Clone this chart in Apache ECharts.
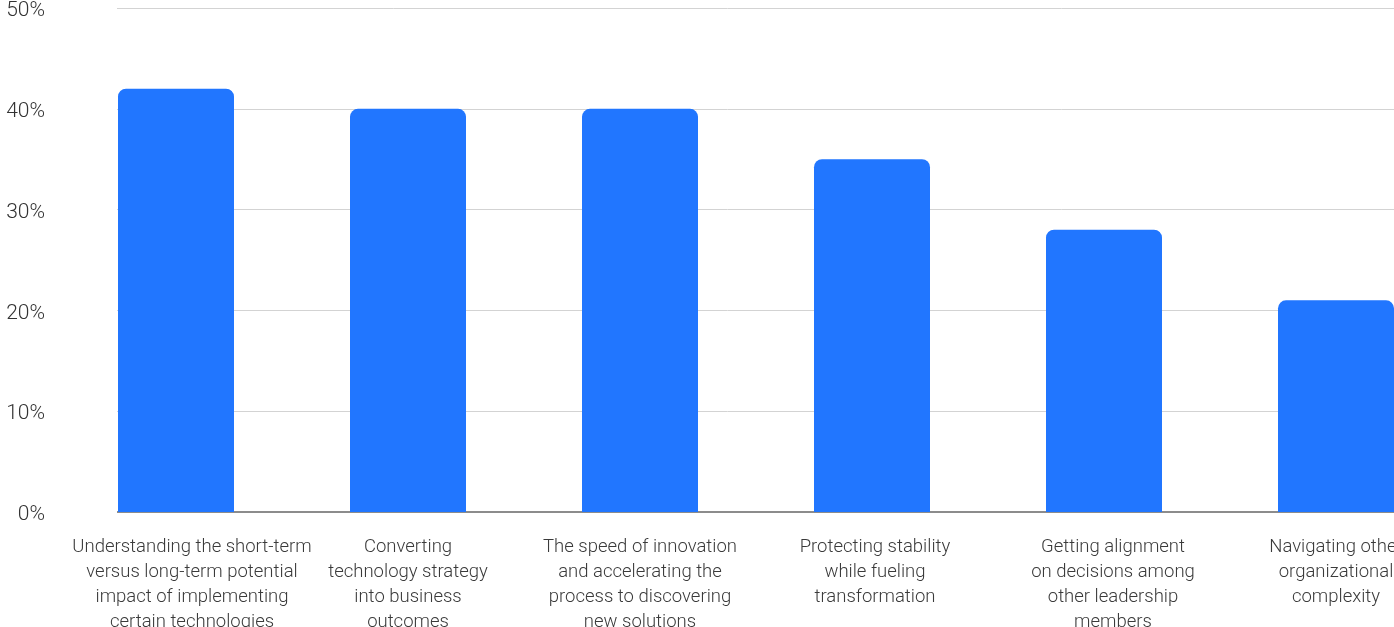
<!DOCTYPE html>
<html>
<head>
<meta charset="utf-8">
<script src="https://cdn.jsdelivr.net/npm/echarts@6/dist/echarts.min.js"></script>
<style>
  html, body { margin: 0; padding: 0; background: #fff; }
  #chart { width: 1394px; height: 627px; }
</style>
</head>
<body>
<div id="chart"></div>
<script>
// challenges named by respondents
var categories = [
  'Understanding the short-term\nversus long-term potential\nimpact of implementing\ncertain technologies',
  'Converting\ntechnology strategy\ninto business\noutcomes',
  'The speed of innovation\nand accelerating the\nprocess to discovering\nnew solutions',
  'Protecting stability\nwhile fueling\ntransformation',
  'Getting alignment\non decisions among\nother leadership\nmembers',
  'Navigating other\norganizational\ncomplexity'
]
var shares = [42, 40, 40, 35, 28, 21]
var yTicks = [0, 10, 20, 30, 40, 50]

// small horizontal nudges of the category labels (px, to the right)
var labelShift = [16, 0, 0, 3, 9, 0]

var labelFont = {
  color: '#3a3a3a',
  fontFamily: 'Roboto',
  fontSize: 18.5,
  fontWeight: 300,
  lineHeight: 25
}
var richX = {}
labelShift.forEach(function (s, i) {
  richX['c' + i] = Object.assign({ padding: [0, 0, 0, s * 2] }, labelFont)
})

var chart = echarts.init(document.getElementById('chart'))
chart.setOption({
  animation: false,
  textStyle: { fontFamily: 'Roboto' },
  grid: {
    left: 60,
    top: 8,
    width: 1392,
    height: 504,
    containLabel: false,
    outerBoundsMode: 'none'
  },
  xAxis: {
    type: 'category',
    data: categories,
    axisTick: { show: false },
    axisLine: { lineStyle: { color: '#8c8c8c', width: 2 } },
    axisLabel: {
      interval: 0,
      margin: 23,
      align: 'center',
      lineHeight: 25,
      formatter: function (value, idx) {
        return value.split('\n').map(function (line) {
          return '{c' + idx + '|' + line + '}'
        }).join('\n')
      },
      rich: richX
    }
  },
  yAxis: {
    type: 'value',
    min: yTicks[0],
    max: yTicks[yTicks.length - 1],
    interval: 10,
    axisLine: { show: false },
    axisTick: { show: false },
    splitLine: { lineStyle: { color: '#d3d3d3', width: 1 } },
    axisLabel: {
      formatter: function (v) { return '{p|' + v + '%}' },
      margin: 15,
      rich: {
        p: {
          color: '#333',
          fontFamily: 'Roboto',
          fontSize: 21,
          fontWeight: 300,
          padding: [6, 0, 0, 0]
        }
      }
    }
  },
  // blank out the gridlines left of the first bar
  graphic: [{
    type: 'rect',
    z: 100,
    shape: { x: 47, y: 0, width: 70, height: 520 },
    style: { fill: '#fff' }
  }],
  series: [{
    type: 'bar',
    data: shares,
    barWidth: '50%',
    itemStyle: {
      color: '#2176ff',
      borderRadius: [8, 8, 0, 0]
    }
  }]
})
</script>
</body>
</html>
